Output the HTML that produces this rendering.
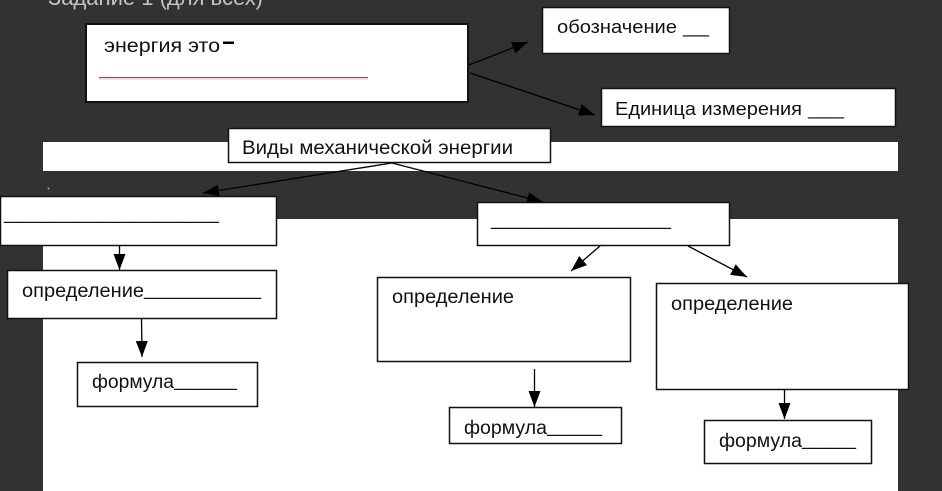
<!DOCTYPE html>
<html><head><meta charset="utf-8"><style>
html,body{margin:0;padding:0;background:#323232;}
svg{display:block;}
text{font-family:"Liberation Sans","Noto Sans CJK SC",sans-serif;fill:#111;}
</style></head><body>
<svg width="942" height="491" viewBox="0 0 942 491" xmlns="http://www.w3.org/2000/svg">
<defs>
<marker id="ah" viewBox="0 0 16 12" refX="16" refY="6" markerWidth="16" markerHeight="12" markerUnits="userSpaceOnUse" orient="auto">
<path d="M0,0 L16,6 L0,12 z" fill="#000"/>
</marker>
</defs>
<rect x="0" y="0" width="942" height="491" fill="#323232"/>
<text x="48" y="5" font-size="22" textLength="215" lengthAdjust="spacingAndGlyphs" style="fill:#c4c4c4">Задание 1 (для всех)</text>
<!-- white areas -->
<rect x="43" y="142" width="855" height="29" fill="#fff"/>
<rect x="43" y="219" width="855" height="272" fill="#fff"/>
<circle cx="48.5" cy="188.5" r="1" fill="#aaa"/>

<!-- box1 -->
<rect x="86" y="24" width="382" height="78" fill="#fff" stroke="#111" stroke-width="2"/>
<text x="104" y="52" font-size="19" textLength="116" lengthAdjust="spacingAndGlyphs">энергия это</text>
<rect x="223" y="41.5" width="11" height="2.5" fill="#000"/>
<line x1="99" y1="77.5" x2="368" y2="77.5" stroke="#d8402f" stroke-width="1.3"/>
<line x1="99" y1="79" x2="368" y2="79" stroke="#ccc" stroke-width="0.8"/>

<!-- обозначение -->
<rect x="542.5" y="7.5" width="187" height="46" fill="#fff" stroke="#111" stroke-width="1.5"/>
<text x="557" y="33" font-size="18" textLength="120" lengthAdjust="spacingAndGlyphs">обозначение</text>
<text x="683" y="33" font-size="18" textLength="26" lengthAdjust="spacingAndGlyphs">___</text>

<!-- Единица -->
<rect x="601.5" y="88.5" width="294" height="38" fill="#fff" stroke="#111" stroke-width="1.5"/>
<text x="615" y="115" font-size="18" textLength="187" lengthAdjust="spacingAndGlyphs">Единица измерения</text>
<text x="808" y="115" font-size="18" textLength="36" lengthAdjust="spacingAndGlyphs">____</text>

<!-- arrows from box1 -->
<line x1="469" y1="65" x2="528" y2="42" stroke="#000" stroke-width="1.4" marker-end="url(#ah)"/>
<line x1="470" y1="73" x2="595" y2="115" stroke="#000" stroke-width="1.4" marker-end="url(#ah)"/>

<!-- Виды -->
<rect x="228.5" y="128.5" width="322" height="34" fill="#fff" stroke="#111" stroke-width="1.5"/>
<text x="242" y="154" font-size="19" textLength="271" lengthAdjust="spacingAndGlyphs">Виды механической энергии</text>

<line x1="392" y1="163" x2="203" y2="193" stroke="#000" stroke-width="1.3" marker-end="url(#ah)"/>
<line x1="392" y1="163" x2="543" y2="202" stroke="#000" stroke-width="1.3" marker-end="url(#ah)"/>

<!-- left level-2 box -->
<rect x="0.5" y="196.5" width="276" height="49" fill="#fff" stroke="#111" stroke-width="1.5"/>
<text x="4" y="219" font-size="19" textLength="215" lengthAdjust="spacingAndGlyphs">________________________</text>

<!-- right level-2 box -->
<rect x="477.5" y="202.5" width="252" height="43" fill="#fff" stroke="#111" stroke-width="1.5"/>
<text x="491" y="225" font-size="19" textLength="180" lengthAdjust="spacingAndGlyphs">____________________</text>

<!-- arrows from right box -->
<line x1="600" y1="246" x2="571" y2="271" stroke="#000" stroke-width="1.3" marker-end="url(#ah)"/>
<line x1="688" y1="246" x2="747" y2="277" stroke="#000" stroke-width="1.3" marker-end="url(#ah)"/>

<!-- left column -->
<line x1="119.5" y1="246" x2="119.5" y2="270" stroke="#000" stroke-width="1.3" marker-end="url(#ah)"/>
<rect x="7.5" y="270.5" width="269" height="48" fill="#fff" stroke="#111" stroke-width="1.5"/>
<text x="22" y="297" font-size="19" textLength="122" lengthAdjust="spacingAndGlyphs">определение</text>
<text x="144" y="295" font-size="19" textLength="117" lengthAdjust="spacingAndGlyphs">_____________</text>
<line x1="141.5" y1="319" x2="142" y2="357" stroke="#000" stroke-width="1.3" marker-end="url(#ah)"/>
<rect x="77.5" y="362.5" width="180" height="44" fill="#fff" stroke="#111" stroke-width="1.5"/>
<text x="92" y="388" font-size="19" textLength="82" lengthAdjust="spacingAndGlyphs">формула</text>
<text x="174" y="386" font-size="19" textLength="63" lengthAdjust="spacingAndGlyphs">_______</text>

<!-- middle column -->
<rect x="377.5" y="277.5" width="253" height="84" fill="#fff" stroke="#111" stroke-width="1.5"/>
<text x="392" y="303" font-size="19" textLength="122" lengthAdjust="spacingAndGlyphs">определение</text>
<line x1="534.5" y1="369" x2="534.5" y2="407" stroke="#000" stroke-width="1.3" marker-end="url(#ah)"/>
<rect x="449.5" y="407.5" width="172" height="36" fill="#fff" stroke="#111" stroke-width="1.5"/>
<text x="464" y="434" font-size="19" textLength="83" lengthAdjust="spacingAndGlyphs">формула</text>
<text x="547" y="432" font-size="19" textLength="55" lengthAdjust="spacingAndGlyphs">______</text>

<!-- right column -->
<rect x="656.5" y="283.5" width="252" height="106" fill="#fff" stroke="#111" stroke-width="1.5"/>
<text x="671" y="310" font-size="19" textLength="122" lengthAdjust="spacingAndGlyphs">определение</text>
<line x1="784.5" y1="390" x2="784.5" y2="419" stroke="#000" stroke-width="1.3" marker-end="url(#ah)"/>
<rect x="704.5" y="420.5" width="167" height="43" fill="#fff" stroke="#111" stroke-width="1.5"/>
<text x="719" y="447" font-size="19" textLength="83" lengthAdjust="spacingAndGlyphs">формула</text>
<text x="802" y="445" font-size="19" textLength="54" lengthAdjust="spacingAndGlyphs">______</text>
</svg>
</body></html>
